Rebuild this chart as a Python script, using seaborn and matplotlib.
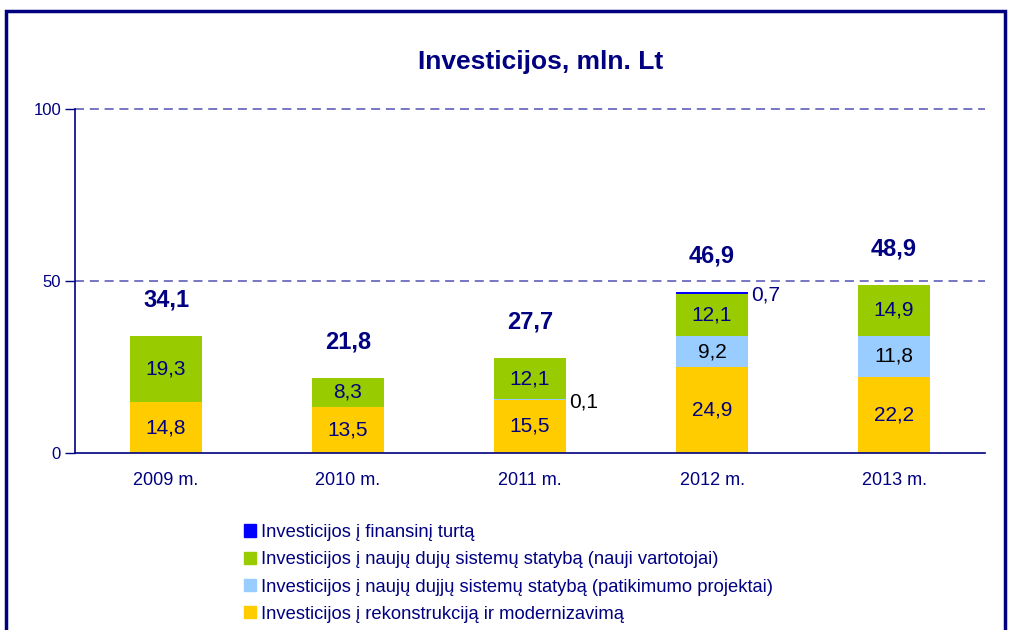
import pandas as pd
import numpy as np
import matplotlib
matplotlib.use("Agg")
import matplotlib.pyplot as plt
import matplotlib.patches as mpatches
import seaborn as sns

years = ["2009 m.", "2010 m.", "2011 m.", "2012 m.", "2013 m."]
rekonstrukcija = [14.8, 13.5, 15.5, 24.9, 22.2]
patikimumo = [0.0, 0.0, 0.1, 9.2, 11.8]
nauji_vartotojai = [19.3, 8.3, 12.1, 12.1, 14.9]
finansinis = [0.0, 0.0, 0.0, 0.7, 0.0]
totals = [34.1, 21.8, 27.7, 46.9, 48.9]

series_names = [
    "Investicijos į rekonstrukciją ir modernizavimą",
    "Investicijos į naujų dujjų sistemų statybą (patikimumo projektai)",
    "Investicijos į naujų dujų sistemų statybą (nauji vartotojai)",
    "Investicijos į finansinį turtą",
]
series_colors = ["#FFCC00", "#99CCFF", "#99CC00", "#0000FF"]
label_colors = ["#000080", "#000000", "#000080", "#000080"]

navy = "#000080"

sns.set_theme(style="white")
plt.rcParams["font.family"] = ["Liberation Sans", "DejaVu Sans"]

df = pd.DataFrame({
    "year": years,
    series_names[0]: rekonstrukcija,
    series_names[1]: patikimumo,
    series_names[2]: nauji_vartotojai,
    series_names[3]: finansinis,
})

fig = plt.figure(figsize=(10.1, 6.3), dpi=100)
ax = fig.add_axes([75 / 1010, 1 - 453 / 630, 910 / 1010, 344 / 630])

bottom = np.zeros(len(years))
for name, col, lcol in zip(series_names, series_colors, label_colors):
    vals = df[name].to_numpy()
    sns.barplot(x=df["year"], y=vals, bottom=bottom, color=col, width=0.4,
                errorbar=None, ax=ax, saturation=1, linewidth=0)
    for i, v in enumerate(vals):
        if v <= 0:
            continue
        txt = f"{v:.1f}".replace(".", ",")
        if v < 2:
            ax.text(i + 0.215, bottom[i] + v / 2 - 0.7, txt,
                    ha="left", va="center", fontsize=15, color=lcol)
        else:
            ax.text(i, bottom[i] + v / 2, txt,
                    ha="center", va="center", fontsize=15, color=lcol)
    bottom = bottom + vals

for i, t in enumerate(totals):
    ax.text(i, t + 10.5, f"{t:.1f}".replace(".", ","), ha="center", va="center",
            fontsize=17, fontweight="bold", color=navy)

ax.set_xlim(-0.5, 4.5)
ax.set_ylim(0, 100)
ax.set_yticks([0, 50, 100])
ax.set_yticklabels(["0", "50", "100"])
for y in [50, 100]:
    ax.axhline(y, color="#6B6BBF", linestyle=(0, (5, 3.2)), linewidth=1.3,
               zorder=0, clip_on=False)

ax.set_xticks(range(len(years)))
ax.set_xticklabels(years)
ax.set_xticks(np.arange(-0.5, 5, 1), minor=True)
ax.tick_params(axis="x", which="major", length=0, pad=14, labelsize=13, labelcolor=navy)
ax.tick_params(axis="x", which="minor", length=5, width=1, color=navy, direction="out")
ax.tick_params(axis="y", length=7, width=1, color=navy, direction="out", pad=3,
               labelsize=12, labelcolor=navy, left=True)
ax.set_xlabel("")
ax.set_ylabel("")
for s in ["top", "right"]:
    ax.spines[s].set_visible(False)
for s in ["left", "bottom"]:
    ax.spines[s].set_color(navy)
    ax.spines[s].set_linewidth(1.2)

fig.text(541 / 1010, 1 - 62 / 630, "Investicijos, mln. Lt", ha="center", va="center",
         fontsize=19, fontweight="bold", color=navy)

handles = [mpatches.Patch(color=c, label=n) for n, c in zip(series_names, series_colors)][::-1]
leg = fig.legend(handles=handles, loc="upper left", bbox_to_anchor=(244 / 1010, 1 - 524 / 630),
                 frameon=False, fontsize=13.2, handlelength=0.65, handleheight=0.65,
                 handletextpad=0.3, labelspacing=0.56, borderaxespad=0, borderpad=0)
for t in leg.get_texts():
    t.set_color(navy)

fig.patches.append(mpatches.Rectangle((6 / 1010, -0.1), 999 / 1010, 1.1 - 11 / 630,
                                      transform=fig.transFigure, fill=False,
                                      edgecolor=navy, linewidth=2.5))

fig.savefig("out.png", dpi=100)
